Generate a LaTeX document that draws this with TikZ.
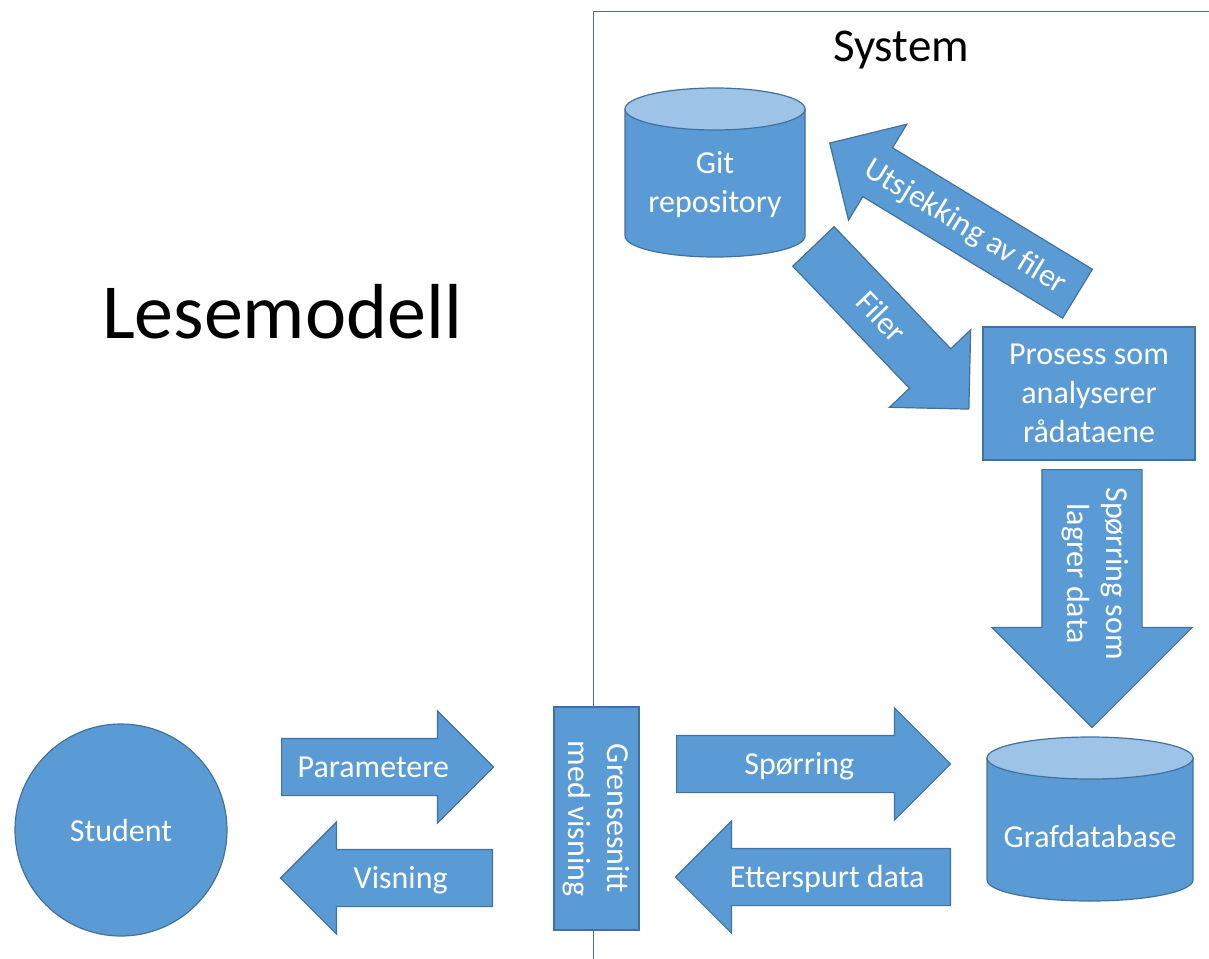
\documentclass[tikz,border=0pt]{standalone}
\usepackage{fontspec}
\setmainfont{Carlito}
\usepackage{tikz}
\usetikzlibrary{shapes.arrows}
\definecolor{boxblue}{HTML}{5B9BD5}
\definecolor{edgeblue}{HTML}{41719C}
\definecolor{capblue}{HTML}{9DC3E6}
\newcommand{\shapefont}{\fontsize{32}{39}\selectfont}
\newcommand{\dbdraw}[3]{%
  \draw[line width=1.2pt, draw=edgeblue, fill=boxblue] (#1.north west) -- (#1.south west)
    arc[start angle=180, end angle=360, x radius=#2, y radius=#3] -- (#1.north east) -- cycle;
  \draw[line width=1.2pt, draw=edgeblue, fill=capblue] (#1.north) ellipse [x radius=#2, y radius=#3];
}

\begin{document}
\begin{tikzpicture}[x=1pt, y=-1pt,
  blk/.style={draw=edgeblue, line width=1.2pt, fill=boxblue, text=white, font=\shapefont, align=center},
  barr/.style={blk, single arrow, single arrow head extend=27.5pt, inner sep=0pt,
    text height=38pt, text depth=18pt, minimum height=#1, anchor=tail},
  db/.style={inner sep=0pt, outer sep=0pt},
  dbtext/.style={text=white, font=\shapefont, align=center},
  ttl/.style={anchor=base, text=black}
]
\useasboundingbox (0,0) rectangle (1209,958);
\node[draw=edgeblue, line width=1.2pt, minimum width=700pt, minimum height=1000pt, anchor=north west] (system) at (593,11) {};
\node[ttl, font=\fontsize{47}{56}\selectfont] (systitle) at (901,62) {System};
\node[ttl, font=\fontsize{78}{94}\selectfont] (lesemodell) at (282,338) {Lesemodell};

\node[db, minimum width=180pt, minimum height=127pt] (git) at (715,172.5) {};
\dbdraw{git}{90pt}{21pt}
\node[dbtext] (gitlabel) at ([yshift=-12pt]git.center) {Git\\repository};
\node[db, minimum width=206pt, minimum height=122pt] (grafdb) at (1090,819) {};
\dbdraw{grafdb}{103pt}{21pt}
\node[dbtext] (grafdblabel) at ([yshift=-17pt]grafdb.center) {Grafdatabase};

\node[blk, minimum width=212pt, minimum height=133pt] (prosess) at (1089,393.5) {Prosess som\\analyserer\\rådataene};
\node[blk, rotate=-90, minimum width=223pt, minimum height=85pt] (grensesnitt) at (596.5,818.5) {Grensesnitt\\med visning};
\node[blk, circle, minimum size=212pt] (student) at (121,830) {Student};

\node[barr=212pt] (parametere) at (281,767) {Parametere};
\node[barr=212pt, shape border rotate=180] (visning) at (493,878) {Visning};
\node[barr=274pt] (sporring) at (676,764) {Spørring};
\node[barr=275pt, shape border rotate=180] (etterspurt) at (951,877) {Etterspurt data};
\node[barr=258pt, rotate=-90, single arrow head extend=50pt, text height=74pt, text depth=25pt] (lagrer) at (1092,469) {Spørring som\\lagrer data};
\node[barr=225pt, rotate=-46.3] (filer) at (813,246) {Filer};
\node[barr=290pt, rotate=-31.3, shape border rotate=180] (utsjekking) at (1078,294) {Utsjekking av filer};
\end{tikzpicture}
\end{document}
